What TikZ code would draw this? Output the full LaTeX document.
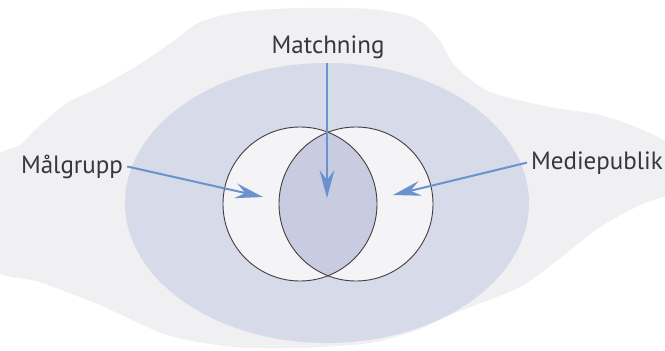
\documentclass[tikz,border=0pt]{standalone}
\usepackage{fontspec}
\setmainfont{PT Sans}
\usetikzlibrary{arrows.meta}
\definecolor{blobc}{RGB}{240,240,243}
\definecolor{ellc}{RGB}{215,218,233}
\definecolor{cinc}{RGB}{244,244,246}
\definecolor{lensc}{RGB}{199,204,225}
\definecolor{ringc}{RGB}{70,60,62}
\definecolor{arrowc}{RGB}{106,146,204}
\definecolor{txtc}{RGB}{58,54,60}
\begin{document}
\begin{tikzpicture}[x=1pt,y=-1pt,
  lbl/.style={font=\fontsize{25}{29}\selectfont, text=txtc, inner sep=4pt},
  arr/.style={draw=arrowc, line width=2pt, -{Stealth[length=28pt,width=15pt,inset=10pt]}},
  ring/.style={draw=ringc, line width=0.9pt}]
\useasboundingbox (0,0) rectangle (665,351);
\fill[white] (0,0) rectangle (665,351);
\fill[blobc] plot[smooth cycle, tension=0.45] coordinates {
 (-10,165) (20,145) (35,130) (67,103) (100,87) (140,64) (175,40) (200,22)
 (240,12) (300,8) (370,9) (415,18) (438,38) (455,66) (490,92) (550,107)
 (600,115) (643,130) (675,150) (675,190) (640,205) (600,227) (560,258)
 (520,287) (455,313) (417,330) (370,343) (300,348) (233,347) (167,335)
 (100,305) (40,282) (-10,265)};
\fill[ellc] (327,203) ellipse [x radius=202, y radius=140];
\coordinate (cL) at (300,204);
\coordinate (cR) at (356,204);
\fill[cinc] (cL) circle [radius=77];
\fill[cinc] (cR) circle [radius=77];
\begin{scope}
  \clip (cL) circle [radius=77];
  \fill[lensc] (cR) circle [radius=77];
\end{scope}
\draw[ring] (cL) circle [radius=77];
\draw[ring] (cR) circle [radius=77];
\node[lbl, anchor=base] (mat) at (328,53) {Matchning};
\node[lbl, anchor=base] (mal) at (72,173) {Målgrupp};
\node[lbl, anchor=base] (med) at (597,169) {Mediepublik};
\coordinate (tipM) at (327,198);
\coordinate (tipL) at (263,197);
\coordinate (tipR) at (393,195);
\draw[arr] (mat.south -| tipM) -- (tipM);
\draw[arr] (mal.east) -- (tipL);
\draw[arr] (med.west) -- (tipR);
\end{tikzpicture}
\end{document}
